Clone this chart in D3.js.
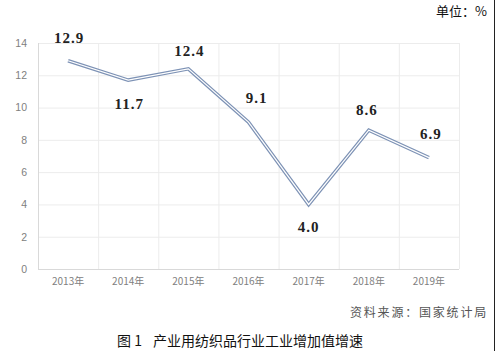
<!DOCTYPE html>
<html>
<head>
    <meta charset="UTF-8" />
    <title>产业用纺织品行业工业增加值增速</title>
    <style>
        body {
            margin: 0;
            padding: 0;
            background: #fff;
            overflow: hidden;
        }
    </style>
</head>
<body>
    <div class="container"></div>
    <script src="https://cdnjs.cloudflare.com/ajax/libs/d3/7.8.5/d3.min.js"></script>
    <script>
        const years = ['2013年', '2014年', '2015年', '2016年', '2017年', '2018年', '2019年'];
        const growth = [12.9, 11.7, 12.4, 9.1, 4.0, 8.6, 6.9];
        const yTicks = [0, 2, 4, 6, 8, 10, 12, 14];
        // label nudges (dx, dy) relative to each point
        const labelDx = [1, 1, 1, 8, 0, -2, 2];
        const labelDy = [-18, 29, -13, -19, 28, -15, -19];

        const w = 496, h = 351;
        const m = { left: 38, right: 37, top: 43, bottom: 82 };

        const svg = d3.select('.container').append('svg')
            .attr('width', w)
            .attr('height', h)

        const x = d3.scaleBand().domain(years).range([m.left, w - m.right]);
        const y = d3.scaleLinear().domain([0, 14]).range([h - m.bottom, m.top]);

        // grid
        svg.append('g')
            .selectAll('line')
            .data(yTicks.slice(1))
            .join('line')
            .attr('x1', m.left).attr('x2', w - m.right)
            .attr('y1', d => y(d) + 0.5).attr('y2', d => y(d) + 0.5)
            .attr('stroke', '#ececec')

        svg.append('g')
            .selectAll('line')
            .data(years)
            .join('line')
            .attr('x1', d => x(d) + x.bandwidth() + 0.5)
            .attr('x2', d => x(d) + x.bandwidth() + 0.5)
            .attr('y1', m.top).attr('y2', y(0))
            .attr('stroke', '#ececec')

        // axes lines
        svg.append('line')
            .attr('x1', m.left + 0.5).attr('x2', m.left + 0.5)
            .attr('y1', m.top).attr('y2', y(0))
            .attr('stroke', '#d9d9d9')
        svg.append('line')
            .attr('x1', m.left).attr('x2', w - m.right)
            .attr('y1', y(0) + 0.5).attr('y2', y(0) + 0.5)
            .attr('stroke', '#d9d9d9')

        const yAxis = d3.axisLeft(y).tickValues(yTicks).tickSize(0).tickPadding(11);
        svg.append('g')
            .attr('transform', `translate(${m.left},0)`)
            .call(yAxis)
            .call(g => g.select('.domain').remove())
            .selectAll('text')
            .attr('fill', '#808080')
            .style('font-family', '"Liberation Sans", Arial, sans-serif')
            .style('font-size', '10.5px')

        const xAxis = d3.axisBottom(x).tickSize(0).tickPadding(9);
        svg.append('g')
            .attr('transform', `translate(0,${y(0)})`)
            .call(xAxis)
            .call(g => g.select('.domain').remove())
            .selectAll('text')
            .attr('fill', '#808080')
            .style('font-family', '"Noto Sans CJK SC", sans-serif')
            .style('font-size', '10px')

        // double line
        const cx = d => x(d) + x.bandwidth() / 2;
        const lineGen = d3.line()
            .x((d, i) => cx(years[i]))
            .y(d => y(d))

        svg.append('path')
            .attr('d', lineGen(growth))
            .attr('fill', 'none')
            .attr('stroke', '#7d92b5')
            .attr('stroke-width', 3.6)
            .attr('stroke-linejoin', 'miter')

        svg.append('path')
            .attr('d', lineGen(growth))
            .attr('fill', 'none')
            .attr('stroke', '#ffffff')
            .attr('stroke-width', 1.2)

        // data labels
        svg.append('g')
            .selectAll('text')
            .data(growth)
            .join('text')
            .attr('x', (d, i) => cx(years[i]) + labelDx[i])
            .attr('y', (d, i) => y(d) + labelDy[i])
            .attr('text-anchor', 'middle')
            .attr('fill', '#222')
            .style('font-family', '"Liberation Serif", "DejaVu Serif", serif')
            .style('font-weight', 'bold')
            .style('font-size', '15px')
            .style('letter-spacing', '1px')
            .text(d => d.toFixed(1))

        // texts
        svg.append('text')
            .attr('x', 487).attr('y', 16)
            .attr('text-anchor', 'end')
            .attr('fill', '#111')
            .style('font-family', '"Noto Sans CJK SC", sans-serif')
            .style('font-size', '13px')
            .text('单位：%')

        svg.append('text')
            .attr('x', 488).attr('y', 317)
            .attr('text-anchor', 'end')
            .attr('fill', '#555')
            .style('font-family', '"Noto Sans CJK SC", sans-serif')
            .style('font-size', '12px')
            .style('letter-spacing', '1.8px')
            .text('资料来源：国家统计局')

        svg.append('text')
            .attr('x', 117).attr('y', 346)
            .attr('fill', '#111')
            .style('font-family', '"Noto Sans CJK SC", sans-serif')
            .style('font-size', '14px')
            .text('图 1')

        svg.append('text')
            .attr('x', 153).attr('y', 346)
            .attr('fill', '#111')
            .style('font-family', '"Noto Sans CJK SC", sans-serif')
            .style('font-size', '14px')
            .text('产业用纺织品行业工业增加值增速')

        // right border
        svg.append('line')
            .attr('x1', 494.5).attr('x2', 494.5)
            .attr('y1', 0).attr('y2', h)
            .attr('stroke', '#222')
    </script>
</body>
</html>
